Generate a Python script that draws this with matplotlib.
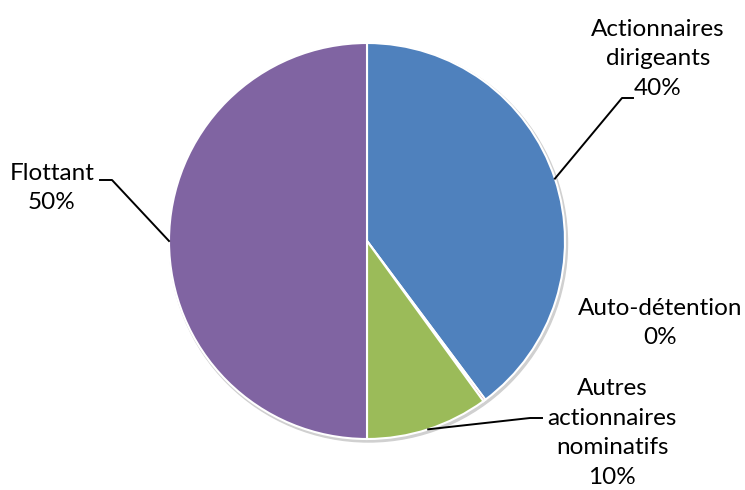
import numpy as np
import matplotlib
matplotlib.use("Agg")
import matplotlib.pyplot as plt

# Répartition du capital
categories = ["Actionnaires\ndirigeants", "Auto-détention", "Autres\nactionnaires\nnominatifs", "Flottant"]
parts = [39.8, 0.2, 10.0, 50.0]
colors = ["#4F81BD", "#C0504D", "#9BBB59", "#8064A2"]

W, H = 745, 490
plt.rcParams['font.family'] = ['Lato', 'DejaVu Sans']

fig = plt.figure(figsize=(W / 100, H / 100), dpi=100)
ax = fig.add_axes([0, 0, 1, 1])

cx, cy, r = 367, H - 241, 198

# faint shadow under the pie
shadow = plt.Circle((cx + 1.5, cy - 2), r + 1, color="#d0d0d0", zorder=0)
ax.add_patch(shadow)

wedges, _ = ax.pie(parts, colors=colors, startangle=90, counterclock=False,
                   center=(cx, cy), radius=r, frame=True,
                   wedgeprops=dict(edgecolor='white', linewidth=1.5))
ax.set_xlim(0, W)
ax.set_ylim(0, H)
ax.set_aspect('equal')
ax.axis('off')


def edge_point(w):
    a = np.deg2rad((w.theta1 + w.theta2) / 2)
    return cx + r * np.cos(a), cy + r * np.sin(a)


labels = [f"{c}\n{round(p):.0f}%" for c, p in zip(categories, parts)]
fs = 17.5
ls = 1.5

# Actionnaires dirigeants
x0, y0 = edge_point(wedges[0])
ax.plot([x0, 622, 633], [y0, H - 98, H - 98], color='black', lw=1.4)
ax.text(658, H - 59, labels[0], ha='center', va='center', fontsize=fs, linespacing=ls)

# Auto-détention (no leader line)
ax.text(660, H - 323, labels[1], ha='center', va='center', fontsize=fs, linespacing=ls)

# Autres actionnaires nominatifs
x0, y0 = edge_point(wedges[2])
ax.plot([x0, 530, 542], [y0, H - 418, H - 418], color='black', lw=1.4)
ax.text(612, H - 433, labels[2], ha='center', va='center', fontsize=fs, linespacing=ls)

# Flottant
x0, y0 = edge_point(wedges[3])
ax.plot([x0, 112, 100], [y0, H - 180, H - 180], color='black', lw=1.4)
ax.text(52, H - 188, labels[3], ha='center', va='center', fontsize=fs, linespacing=ls)

fig.savefig("out.png", dpi=100)
